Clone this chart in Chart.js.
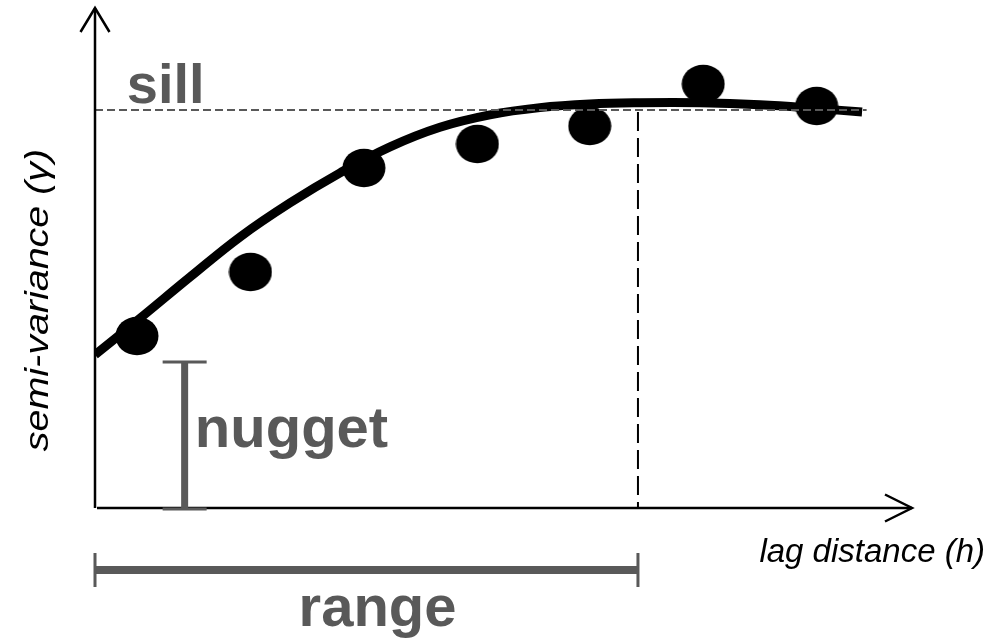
<!DOCTYPE html>
<html>
<head>
<meta charset="utf-8">
<script src="https://cdn.jsdelivr.net/npm/chart.js@4.4.1/dist/chart.umd.min.js"></script>
<style>
  html, body { margin: 0; padding: 0; background: #fff; }
  #wrap { width: 986px; height: 641px; }
</style>
</head>
<body>
<div id="wrap"><canvas id="variogram" width="986" height="641"></canvas></div>
<script>
'use strict';

// Experimental semivariogram points (lag, gamma)
var lagX = [0.37, 1.37, 2.37, 3.37, 4.36, 5.36, 6.36];
var gammaY = [0.43, 0.59, 0.85, 0.91, 0.955, 1.06, 1.005];

// Fitted model curve
var modelX = [0, 0.40, 0.84, 1.28, 1.72, 2.16, 2.60, 3.04, 3.48, 3.92, 4.36, 4.80, 5.33, 5.86, 6.39, 6.76];
var modelY = [0.383, 0.475, 0.578, 0.678, 0.763, 0.838, 0.903, 0.952, 0.983, 1.001, 1.010, 1.013, 1.013, 1.008, 0.998, 0.990];

// Model parameters
var sill = 0.995;
var nugget = 0.365;
var range = 4.785;

var GREY = '#595959';

// ellipse shaped marker (the dots are a bit wider than tall)
function makeDot() {
  var c = document.createElement('canvas');
  c.width = 44;
  c.height = 40;
  var g = c.getContext('2d');
  g.fillStyle = '#000';
  g.beginPath();
  g.ellipse(22, 20, 21.5, 19.3, 0, 0, Math.PI * 2);
  g.fill();
  return c;
}

function toPoints(xs, ys) {
  return xs.map(function (x, i) { return { x: x, y: ys[i] }; });
}

function arrowHead(ctx, tx, ty, dx, dy, len, half) {
  // dx,dy: unit direction of arrow
  var bx = tx - dx * len, by = ty - dy * len;
  ctx.beginPath();
  ctx.moveTo(bx - dy * half, by + dx * half);
  ctx.lineTo(tx, ty);
  ctx.lineTo(bx + dy * half, by - dx * half);
  ctx.stroke();
}

// axes, sill/range/nugget marks and labels
var annotations = {
  id: 'variogramMarks',
  afterDatasetsDraw: function (chart) {
    var ctx = chart.ctx;
    var xs = chart.scales.x, ys = chart.scales.y;
    var x0 = xs.getPixelForValue(0), y0 = ys.getPixelForValue(0);
    var xEnd = xs.getPixelForValue(xs.max), yTop = ys.getPixelForValue(ys.max);
    ctx.save();

    // sill (grey dashed)
    var ySill = ys.getPixelForValue(sill);
    ctx.strokeStyle = GREY;
    ctx.lineWidth = 2;
    ctx.setLineDash([8, 4]);
    ctx.beginPath();
    ctx.moveTo(x0, ySill);
    ctx.lineTo(xs.getPixelForValue(6.8), ySill);
    ctx.stroke();

    // range (black dashed vertical)
    var xRange = xs.getPixelForValue(range);
    ctx.strokeStyle = '#000';
    ctx.lineWidth = 2;
    ctx.setLineDash([19, 7]);
    ctx.beginPath();
    ctx.moveTo(xRange, ySill + 2);
    ctx.lineTo(xRange, y0);
    ctx.stroke();
    ctx.setLineDash([]);

    // axes with open arrow heads
    ctx.strokeStyle = '#000';
    ctx.lineWidth = 2.5;
    ctx.beginPath();
    ctx.moveTo(x0, y0);
    ctx.lineTo(x0, yTop);
    ctx.moveTo(x0 + 2, y0);
    ctx.lineTo(xEnd, y0);
    ctx.stroke();
    arrowHead(ctx, x0, yTop, 0, -1, 24, 14.5);
    arrowHead(ctx, xEnd, y0, 1, 0, 27, 13.5);

    // nugget bar
    var xN = xs.getPixelForValue(0.79);
    var yN = ys.getPixelForValue(nugget);
    ctx.strokeStyle = GREY;
    ctx.lineWidth = 7;
    ctx.beginPath();
    ctx.moveTo(xN, yN);
    ctx.lineTo(xN, y0);
    ctx.stroke();
    ctx.lineWidth = 3;
    ctx.beginPath();
    ctx.moveTo(xN - 22, yN);
    ctx.lineTo(xN + 22, yN);
    ctx.moveTo(xN - 22, y0 + 1);
    ctx.lineTo(xN + 22, y0 + 1);
    ctx.stroke();

    // range bar below the x axis
    var yR = ys.getPixelForValue(-0.155);
    ctx.lineWidth = 8;
    ctx.beginPath();
    ctx.moveTo(x0, yR);
    ctx.lineTo(xRange, yR);
    ctx.stroke();
    ctx.lineWidth = 3;
    ctx.beginPath();
    ctx.moveTo(x0, yR - 17);
    ctx.lineTo(x0, yR + 17);
    ctx.moveTo(xRange, yR - 17);
    ctx.lineTo(xRange, yR + 17);
    ctx.stroke();

    // labels
    ctx.fillStyle = GREY;
    ctx.textBaseline = 'alphabetic';
    ctx.textAlign = 'left';
    ctx.font = 'bold 56px "Liberation Sans", Arial, sans-serif';
    ctx.fillText('sill', xs.getPixelForValue(0.28), ys.getPixelForValue(1.0125));
    ctx.font = 'bold 58px "Liberation Sans", Arial, sans-serif';
    ctx.fillText('nugget', xs.getPixelForValue(0.88), ys.getPixelForValue(0.1525));
    ctx.textAlign = 'center';
    ctx.fillText('range', xs.getPixelForValue(2.49), ys.getPixelForValue(-0.295));

    ctx.fillStyle = '#000';
    ctx.font = 'italic 33px "Liberation Sans", Arial, sans-serif';
    ctx.textAlign = 'right';
    ctx.fillText('lag distance (h)', 985, ys.getPixelForValue(-0.135));

    ctx.save();
    ctx.translate(48, 300);
    ctx.rotate(-Math.PI / 2);
    ctx.scale(1.16, 1);
    ctx.textAlign = 'center';
    ctx.font = 'italic 34px "Liberation Sans", Arial, sans-serif';
    ctx.fillText('semi-variance (γ)', 0, 0);
    ctx.restore();

    ctx.restore();
  }
};

function createVariogramChart() {
  var ctx = document.getElementById('variogram');
  var chart = new Chart(ctx, {
    type: 'scatter',
    data: {
      datasets: [
        {
          label: 'model',
          type: 'line',
          data: toPoints(modelX, modelY),
          borderColor: '#000',
          borderWidth: 9,
          pointRadius: 0,
          fill: false,
          tension: 0.4,
          order: 2
        },
        {
          label: 'observed',
          data: toPoints(lagX, gammaY),
          pointStyle: makeDot(),
          pointRadius: 20,
          order: 1
        }
      ]
    },
    options: {
      responsive: false,
      animation: false,
      layout: { autoPadding: false, padding: { left: 95, right: 74, top: 8, bottom: 133 } },
      plugins: {
        legend: { display: false },
        tooltip: { enabled: false }
      },
      scales: {
        x: { type: 'linear', min: 0, max: 7.2, display: false },
        y: { type: 'linear', min: 0, max: 1.25, display: false }
      }
    },
    plugins: [annotations]
  });
}

createVariogramChart();
</script>
</body>
</html>
